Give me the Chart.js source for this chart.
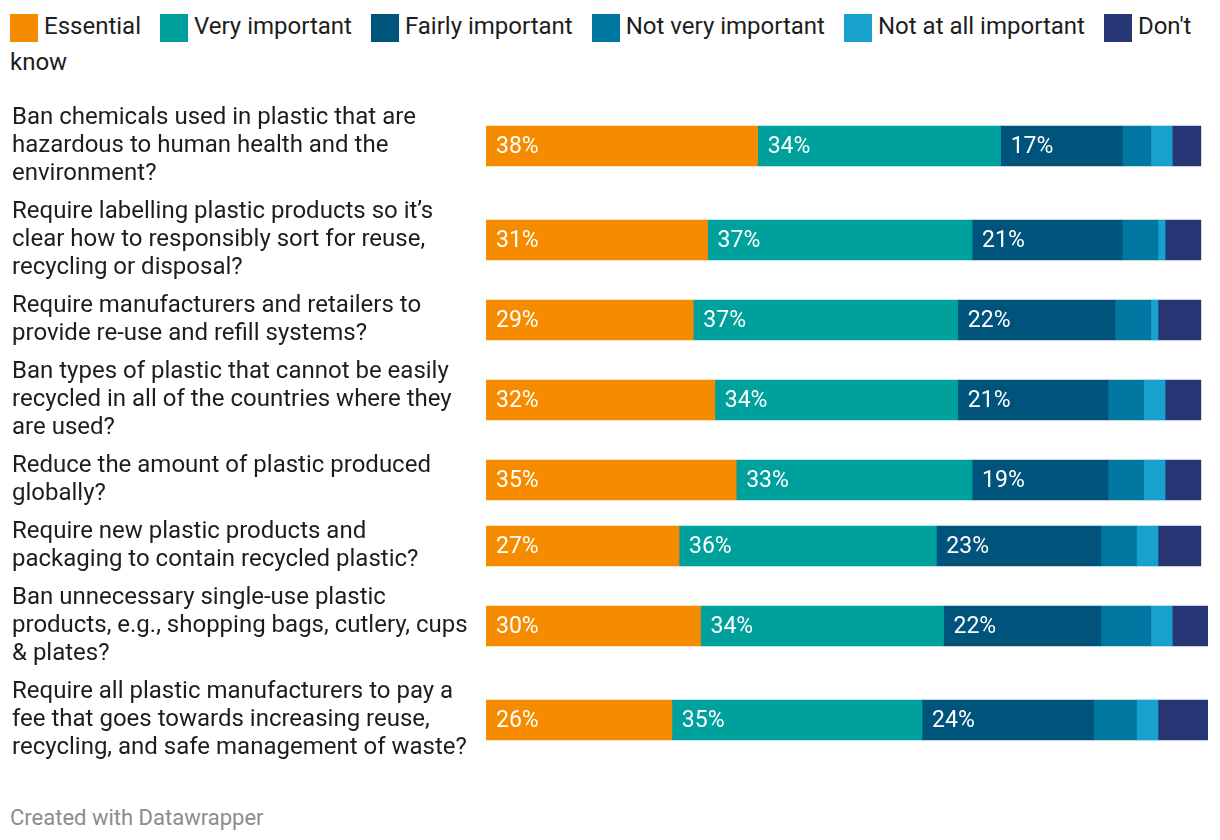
<!DOCTYPE html>
<html lang="en">
<head>
    <meta charset="UTF-8">
    <title>Plastic treaty measures</title>
    <style>
        body {
            margin: 0;
            padding: 0;
            background: #ffffff;
            font-family: 'Roboto', sans-serif;
            width: 1220px;
            height: 840px;
            position: relative;
            overflow: hidden;
        }

        #legend {
            position: absolute;
            left: 10px;
            top: 8px;
            width: 1200px;
            font-size: 24px;
            line-height: 36px;
            color: #1d1d1d;
        }

        #legend .item {
            white-space: nowrap;
            margin-right: 19px;
        }

        #legend .item:last-child {
            white-space: normal;
            margin-right: 0;
        }

        #legend .sq {
            display: inline-block;
            width: 28px;
            height: 28px;
            margin-right: 6px;
            vertical-align: -8px;
        }

        .chart-wrap {
            position: absolute;
            left: 0;
            top: 99px;
            width: 1220px;
            height: 668px;
        }

        #footer {
            position: absolute;
            left: 10px;
            top: 805px;
            font-size: 22px;
            color: #8c8c8c;
        }
    </style>
</head>
<body>
    <div id="legend"></div>
    <div class="chart-wrap">
        <canvas id="chart"></canvas>
    </div>
    <div id="footer">Created with Datawrapper</div>

    <script src="https://cdn.jsdelivr.net/npm/chart.js"></script>
    <script>
        // questions, already wrapped the way they appear
        const questions = [
            ['Ban chemicals used in plastic that are', 'hazardous to human health and the', 'environment?'],
            ['Require labelling plastic products so it\u2019s', 'clear how to responsibly sort for reuse,', 'recycling or disposal?'],
            ['Require manufacturers and retailers to', 'provide re-use and refill systems?'],
            ['Ban types of plastic that cannot be easily', 'recycled in all of the countries where they', 'are used?'],
            ['Reduce the amount of plastic produced', 'globally?'],
            ['Require new plastic products and', 'packaging to contain recycled plastic?'],
            ['Ban unnecessary single-use plastic', 'products, e.g., shopping bags, cutlery, cups', '& plates?'],
            ['Require all plastic manufacturers to pay a', 'fee that goes towards increasing reuse,', 'recycling, and safe management of waste?']
        ];

        const seriesNames = ['Essential', 'Very important', 'Fairly important', 'Not very important', 'Not at all important', "Don't know"];
        const seriesColors = ['#f68b00', '#00a09c', '#00537a', '#0077a0', '#19a1cd', '#263574'];

        const essential = [38, 31, 29, 32, 35, 27, 30, 26];
        const veryImportant = [34, 37, 37, 34, 33, 36, 34, 35];
        const fairlyImportant = [17, 21, 22, 21, 19, 23, 22, 24];
        const notVeryImportant = [4, 5, 5, 5, 5, 5, 7, 6];
        const notAtAllImportant = [3, 1, 1, 3, 3, 3, 3, 3];
        const dontKnow = [4, 5, 6, 5, 5, 6, 5, 7];

        const series = [essential, veryImportant, fairlyImportant, notVeryImportant, notAtAllImportant, dontKnow];

        // each row is as tall as its wrapped label
        const LINE = 28;
        const ROW_PAD = 10;
        const rowHeights = questions.map(q => q.length * LINE + ROW_PAD);
        const rowCenters = [];
        let acc = 0;
        rowHeights.forEach(h => {
            rowCenters.push(acc + h / 2);
            acc += h;
        });
        const totalHeight = acc;

        const totals = questions.map((q, i) => series.reduce((s, arr) => s + arr[i], 0));
        const xMax = Math.max(...totals);

        // html legend (wraps like the original)
        const legendEl = document.getElementById('legend');
        seriesNames.forEach((name, i) => {
            const item = document.createElement('span');
            item.className = 'item';
            item.innerHTML = '<span class="sq" style="background:' + seriesColors[i] + '"></span>' + name;
            legendEl.appendChild(item);
        });

        // value labels inside the big segments
        const valueLabels = {
            id: 'valueLabels',
            afterDatasetsDraw(chart) {
                const ctx = chart.ctx;
                ctx.save();
                ctx.font = '23px Roboto';
                ctx.fillStyle = '#ffffff';
                ctx.textBaseline = 'middle';
                ctx.textAlign = 'left';
                chart.data.datasets.forEach((ds, di) => {
                    const meta = chart.getDatasetMeta(di);
                    meta.data.forEach((bar, i) => {
                        const v = ds.data[i].x;
                        if (v < 10) return;
                        const left = Math.min(bar.x, bar.base);
                        ctx.fillText(v + '%', left + 10, bar.y + 1);
                    });
                });
                ctx.restore();
            }
        };

        const ctx = document.getElementById('chart').getContext('2d');
        const chart = new Chart(ctx, {
            type: 'bar',
            data: {
                datasets: series.map((arr, si) => ({
                    label: seriesNames[si],
                    data: arr.map((v, i) => ({ x: v, y: rowCenters[i] })),
                    backgroundColor: seriesColors[si],
                    borderWidth: 0,
                    barThickness: 40
                }))
            },
            options: {
                indexAxis: 'y',
                responsive: true,
                maintainAspectRatio: false,
                animation: false,
                layout: {
                    padding: { left: 12, right: 12, top: 0, bottom: 0 }
                },
                scales: {
                    x: {
                        display: false,
                        stacked: true,
                        min: 0,
                        max: xMax
                    },
                    y: {
                        type: 'linear',
                        stacked: true,
                        reverse: true,
                        offset: false,
                        min: 0,
                        max: totalHeight,
                        grid: { display: false },
                        border: { display: false },
                        afterBuildTicks: scale => {
                            scale.ticks = rowCenters.map(v => ({ value: v }));
                        },
                        afterFit: scale => {
                            scale.width = 474;
                            scale.paddingTop = 0;
                            scale.paddingBottom = 0;
                        },
                        ticks: {
                            autoSkip: false,
                            crossAlign: 'far',
                            padding: 0,
                            color: '#1d1d1d',
                            font: { family: 'Roboto', size: 24, lineHeight: LINE / 24 },
                            callback: (value, index) => questions[index]
                        }
                    }
                },
                plugins: {
                    legend: { display: false },
                    tooltip: { enabled: false }
                }
            },
            plugins: [valueLabels]
        });
    </script>
</body>
</html>
